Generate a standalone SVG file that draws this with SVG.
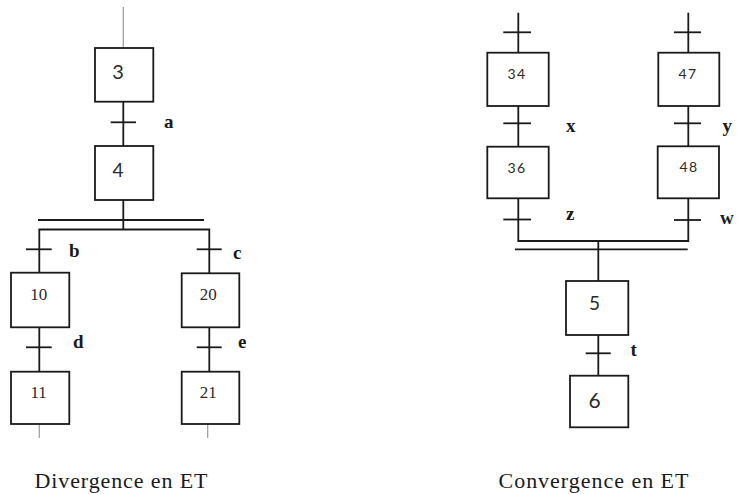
<svg xmlns="http://www.w3.org/2000/svg" width="739" height="494" viewBox="0 0 739 494">
  <style>
    .step { fill: #ffffff; stroke: #1a1a1a; stroke-width: 1.8; }
    .link { fill: none; stroke: #1a1a1a; stroke-width: 1.8; }
    .stub { fill: none; stroke: #9a9a9a; stroke-width: 1.2; }
    .tick { fill: none; stroke: #1a1a1a; stroke-width: 1.8; }
    .num  { font-family: Lato, "Open Sans", "Liberation Sans", sans-serif; fill: #2a2a2a; text-anchor: middle; }
    .numt { font-family: "Liberation Serif", "Times New Roman", serif; font-size: 17px; fill: #2a2a2a; text-anchor: middle; }
    .cond { font-family: "Liberation Serif", "Times New Roman", serif; font-weight: bold; font-size: 19px; fill: #1a1a1a; }
    .cap  { font-family: "Liberation Serif", "Times New Roman", serif; font-size: 22px; fill: #1a1a1a; }
  </style>

  <rect width="739" height="494" fill="#ffffff"/>

  <!-- links between steps, branches and synchronisation bars -->
  <g id="connectors">
    <!-- divergence in AND (left) -->
    <line class="stub" x1="123.3" y1="7" x2="123.3" y2="48"/>
    <line class="link" x1="123.3" y1="101.7" x2="123.3" y2="146"/>
    <line class="link" x1="123.3" y1="200" x2="123.3" y2="229.5"/>
    <line class="link" x1="38" y1="220" x2="204" y2="220"/>
    <polyline class="link" points="39.3,272.7 39.3,229.5 209.3,229.5 209.3,273.3"/>
    <line class="link" x1="39.3" y1="327.3" x2="39.3" y2="371.7"/>
    <line class="link" x1="209.3" y1="327.3" x2="209.3" y2="371.7"/>
    <line class="stub" x1="39.3" y1="424" x2="39.3" y2="438"/>
    <line class="stub" x1="207.7" y1="424" x2="207.7" y2="438"/>

    <!-- convergence in AND (right) -->
    <line class="link" x1="518.3" y1="12.7" x2="518.3" y2="52.7"/>
    <line class="link" x1="688.3" y1="12.7" x2="688.3" y2="52.7"/>
    <line class="link" x1="518.3" y1="106" x2="518.3" y2="146.7"/>
    <line class="link" x1="688.3" y1="106" x2="688.3" y2="146.7"/>
    <polyline class="link" points="518.3,198.3 518.3,241 688.3,241 688.3,198.3"/>
    <line class="link" x1="515" y1="249.3" x2="687.7" y2="249.3"/>
    <line class="link" x1="598.3" y1="241" x2="598.3" y2="281"/>
    <line class="link" x1="598.3" y1="335" x2="598.3" y2="375.7"/>
  </g>

  <!-- transitions with their receptivities -->
  <g id="transitions">
    <g id="t-a"><line class="tick" x1="110.7" y1="122.3" x2="136" y2="122.3"/><text class="cond" x="164" y="128">a</text></g>
    <g id="t-b"><line class="tick" x1="26" y1="249.3" x2="51.7" y2="249.3"/><text class="cond" x="69" y="257.3">b</text></g>
    <g id="t-c"><line class="tick" x1="196.7" y1="249.3" x2="221.7" y2="249.3"/><text class="cond" x="233" y="259.3">c</text></g>
    <g id="t-d"><line class="tick" x1="26" y1="347.3" x2="51.7" y2="347.3"/><text class="cond" x="73" y="348.3">d</text></g>
    <g id="t-e"><line class="tick" x1="196.7" y1="347.3" x2="221.7" y2="347.3"/><text class="cond" x="238" y="348.3">e</text></g>

    <g id="t-in34"><line class="tick" x1="503.3" y1="32.3" x2="531" y2="32.3"/></g>
    <g id="t-in47"><line class="tick" x1="674" y1="32.3" x2="701" y2="32.3"/></g>
    <g id="t-x"><line class="tick" x1="503.3" y1="123.3" x2="531" y2="123.3"/><text class="cond" x="566" y="131.7">x</text></g>
    <g id="t-y"><line class="tick" x1="674" y1="123.3" x2="701" y2="123.3"/><text class="cond" x="722.5" y="131.7">y</text></g>
    <g id="t-z"><line class="tick" x1="503.3" y1="219.5" x2="531" y2="219.5"/><text class="cond" x="566" y="220">z</text></g>
    <g id="t-w"><line class="tick" x1="674" y1="220" x2="701" y2="220"/><text class="cond" x="720" y="224">w</text></g>
    <g id="t-t"><line class="tick" x1="585.7" y1="353.3" x2="610.7" y2="353.3"/><text class="cond" x="630.5" y="356">t</text></g>
  </g>

  <!-- steps -->
  <g id="step-3"><rect class="step" x="95" y="48" width="58.3" height="53.7"/><text class="num" x="118" y="79" font-size="20">3</text></g>
  <g id="step-4"><rect class="step" x="95" y="146" width="58.3" height="54"/><text class="num" x="118" y="177" font-size="19">4</text></g>
  <g id="step-10"><rect class="step" x="11" y="272.7" width="58.3" height="54.6"/><text class="numt" x="38.7" y="300">10</text></g>
  <g id="step-11"><rect class="step" x="11" y="371.7" width="58.3" height="52.3"/><text class="numt" x="38.7" y="398.3">11</text></g>
  <g id="step-20"><rect class="step" x="181.7" y="273.3" width="57.6" height="54"/><text class="numt" x="208.3" y="300">20</text></g>
  <g id="step-21"><rect class="step" x="181.7" y="371.7" width="57.6" height="52.3"/><text class="numt" x="208.3" y="398.3">21</text></g>

  <g id="step-34"><rect class="step" x="487.3" y="52.7" width="61.4" height="53.3"/><text class="num" x="517" y="79" font-size="14" letter-spacing="1.5">34</text></g>
  <g id="step-47"><rect class="step" x="658.3" y="52.7" width="61" height="53.3"/><text class="num" x="688" y="78.5" font-size="14" letter-spacing="1.5">47</text></g>
  <g id="step-36"><rect class="step" x="487.3" y="146.7" width="61.4" height="51.6"/><text class="num" x="517" y="172.7" font-size="14" letter-spacing="1.5">36</text></g>
  <g id="step-48"><rect class="step" x="657.7" y="146.3" width="61.3" height="52"/><text class="num" x="689" y="172" font-size="14" letter-spacing="1.5">48</text></g>
  <g id="step-5"><rect class="step" x="566" y="281" width="62.3" height="54"/><text class="num" x="594.5" y="310" font-size="19">5</text></g>
  <g id="step-6"><rect class="step" x="570" y="375.7" width="58.3" height="51.6"/><text class="num" x="594.5" y="408" font-size="21">6</text></g>

  <!-- captions -->
  <text class="cap" x="34.5" y="488" textLength="173" lengthAdjust="spacing">Divergence en ET</text>
  <text class="cap" x="498.5" y="488.3" textLength="190" lengthAdjust="spacing">Convergence en ET</text>
</svg>
